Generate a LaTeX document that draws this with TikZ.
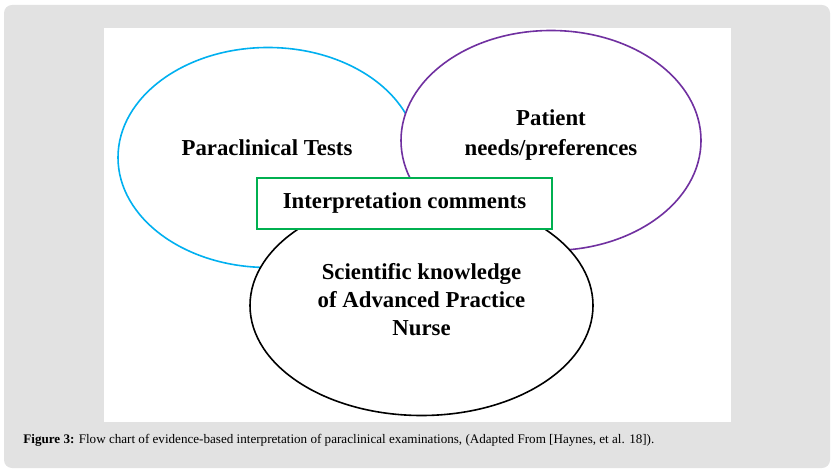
\documentclass[tikz,border=0pt]{standalone}
\usepackage{fontspec}
\setmainfont{Liberation Serif}
\usepackage{xcolor}
\usepackage{tikz}
\usetikzlibrary{positioning}

\definecolor{panelgray}{HTML}{E2E2E2}
\definecolor{testblue}{HTML}{00B0F0}
\definecolor{needpurple}{HTML}{7030A0}
\definecolor{boxgreen}{HTML}{00B050}

\tikzset{
  ring/.style={line width=0.8pt, fill=white},
  label/.style={font=\fontsize{11.4}{14}\selectfont\bfseries, align=center}
}

\begin{document}
\begin{tikzpicture}[x=0.5pt, y=-0.5pt]
    \useasboundingbox (0,0) rectangle (839,475);
    % Grey frame and white panel
    \fill[panelgray, rounded corners=4pt] (4,5) rectangle (830,468);
    \fill[white] (104,28) rectangle (731,422);

    % Three overlapping circles
    \draw[ring, draw=testblue] (268,157.5) ellipse (75pt and 55pt);
    \draw[ring, draw=needpurple] (551,140.5) ellipse (75pt and 55pt);
    \draw[ring, draw=black] (421.5,305.5) ellipse (85.75pt and 55pt);

    % Texts
    \node[label] (tests) at (267,148) {Paraclinical Tests};
    \node[label] (needs) at (551,135.5) {Patient\\[1pt]needs/preferences};
    \node[label] (nurse) at (421.5,299.5) {Scientific knowledge\\of Advanced Practice\\Nurse};

    % Box in the middle
    \node[label, draw=boxgreen, line width=0.8pt, fill=white, minimum width=147.5pt, minimum height=25.5pt] (comments) at (404.5,203.5) {Interpretation comments};

    % Caption
    \node[anchor=west, inner sep=0pt, font=\fontsize{6.55}{8}\selectfont] (caption) at (23,440) {\textbf{Figure 3:} Flow chart of evidence-based interpretation of paraclinical examinations, (Adapted From [Haynes, et al. 18]).};
\end{tikzpicture}
\end{document}
